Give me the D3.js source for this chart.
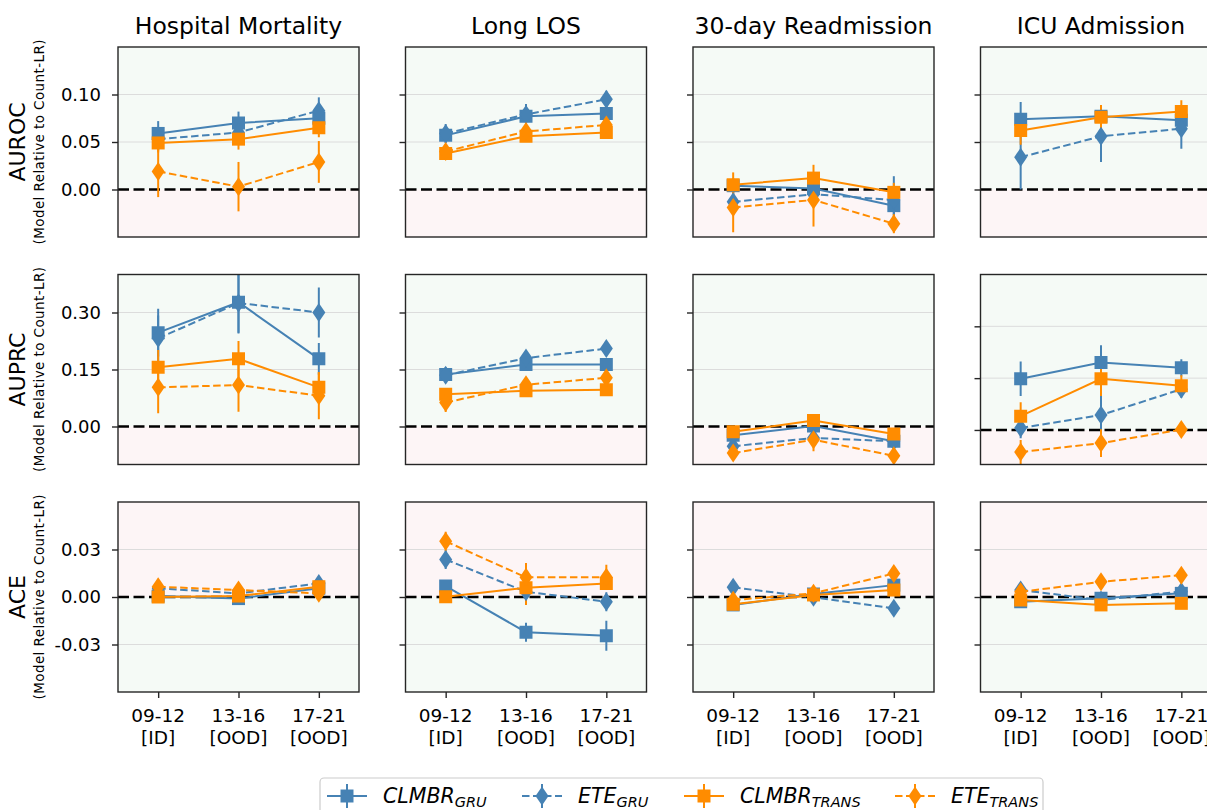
<!DOCTYPE html>
<html><head><meta charset="utf-8">
<script src="https://cdn.jsdelivr.net/npm/d3@7"></script>
<style>
body{margin:0;background:#fff}
svg{display:block;font-family:"DejaVu Sans",sans-serif}
</style>
</head><body>
<svg id="c" width="1207" height="810"></svg>
<script>
// ---------------- DATA ----------------
const tasks = ["Hospital Mortality", "Long LOS", "30-day Readmission", "ICU Admission"];
const metrics = ["AUROC", "AUPRC", "ACE"];
const periods = ["09-12", "13-16", "17-21"];
const periodTags = ["[ID]", "[OOD]", "[OOD]"];
const models = ["CLMBR_GRU", "ETE_GRU", "CLMBR_TRANS", "ETE_TRANS"];
const modelBase = ["CLMBR", "ETE", "CLMBR", "ETE"];
const modelSub = ["GRU", "GRU", "TRANS", "TRANS"];

const aurocTicks = [0, 0.05, 0.10];
const aurocTickLabels = ["0.00", "0.05", "0.10"];
const auprcTicks = [0, 0.15, 0.30];
const auprcTickLabels = ["0.00", "0.15", "0.30"];
const aceTicks = [-0.03, 0, 0.03];
const aceTickLabels = ["-0.03", "0.00", "0.03"];

// per task: [09-12, 13-16, 17-21]
const auroc_clmbr_gru     = [[0.059, 0.070, 0.075], [0.057, 0.077, 0.080], [0.004, 0.001, -0.017], [0.074, 0.077, 0.073]];
const auroc_ete_gru       = [[0.053, 0.060, 0.083], [0.059, 0.079, 0.095], [-0.013, -0.005, -0.011], [0.034, 0.056, 0.064]];
const auroc_clmbr_trans   = [[0.049, 0.053, 0.065], [0.038, 0.056, 0.060], [0.005, 0.012, -0.003], [0.062, 0.076, 0.082]];
const auroc_ete_trans     = [[0.019, 0.003, 0.029], [0.040, 0.061, 0.068], [-0.019, -0.011, -0.036], [null, null, null]];
const auroc_clmbr_gru_err   = [[0.013, 0.012, 0.012], [0.008, 0.007, 0.008], [0.008, 0.008, 0.010], [0.018, 0.012, 0.010]];
const auroc_ete_gru_err     = [[0.012, 0.012, 0.014], [0.010, 0.011, 0.009], [0.010, 0.010, 0.025], [0.034, 0.027, 0.021]];
const auroc_clmbr_trans_err = [[0.010, 0.011, 0.010], [0.007, 0.006, 0.006], [0.013, 0.014, 0.010], [0.015, 0.013, 0.012]];
const auroc_ete_trans_err   = [[0.027, 0.026, 0.022], [0.008, 0.008, 0.009], [0.026, 0.028, 0.010], [null, null, null]];

const auprc_clmbr_gru     = [[0.247, 0.327, 0.178], [0.137, 0.163, 0.163], [-0.023, 0.001, -0.039], [0.148, 0.195, 0.180]];
const auprc_ete_gru       = [[0.232, 0.325, 0.300], [0.135, 0.180, 0.205], [-0.052, -0.030, -0.039], [0.006, 0.043, 0.118]];
const auprc_clmbr_trans   = [[0.156, 0.178, 0.103], [0.085, 0.094, 0.097], [-0.014, 0.016, -0.020], [0.040, 0.148, 0.128]];
const auprc_ete_trans     = [[0.103, 0.109, 0.081], [0.063, 0.110, 0.128], [-0.070, -0.035, -0.077], [-0.064, -0.038, 0.001]];
const auprc_clmbr_gru_err   = [[0.063, 0.080, 0.042], [0.018, 0.012, 0.012], [0.008, 0.008, 0.008], [0.050, 0.050, 0.025]];
const auprc_ete_gru_err     = [[0.060, 0.080, 0.066], [0.020, 0.012, 0.012], [0.010, 0.010, 0.010], [0.030, 0.060, 0.025]];
const auprc_clmbr_trans_err = [[0.045, 0.047, 0.040], [0.015, 0.012, 0.012], [0.010, 0.008, 0.010], [0.040, 0.050, 0.030]];
const auprc_ete_trans_err   = [[0.068, 0.070, 0.062], [0.025, 0.018, 0.015], [0.015, 0.030, 0.012], [0.035, 0.040, 0.015]];

const ace_clmbr_gru     = [[0.0006, -0.001, 0.0055], [0.0069, -0.0222, -0.0245], [-0.005, 0.0019, 0.0075], [-0.003, -0.0008, 0.0023]];
const ace_ete_gru       = [[0.0055, 0.0023, 0.0086], [0.0237, 0.0033, -0.003], [0.0061, -0.0002, -0.0071], [0.0044, -0.0019, 0.0035]];
const ace_clmbr_trans   = [[0.0, 0.0006, 0.0065], [0.0002, 0.0059, 0.0086], [-0.0046, 0.0013, 0.0044], [-0.0019, -0.005, -0.004]];
const ace_ete_trans     = [[0.0065, 0.0044, 0.0023], [0.0352, 0.0124, 0.0124], [-0.002, 0.0023, 0.0149], [0.0033, 0.0096, 0.0138]];
const ace_clmbr_gru_err   = [[0.002, 0.002, 0.002], [0.003, 0.006, 0.0095], [0.003, 0.002, 0.003], [0.002, 0.002, 0.002]];
const ace_ete_gru_err     = [[0.002, 0.002, 0.003], [0.006, 0.006, 0.006], [0.003, 0.003, 0.003], [0.002, 0.002, 0.002]];
const ace_clmbr_trans_err = [[0.002, 0.002, 0.002], [0.003, 0.011, 0.004], [0.002, 0.002, 0.002], [0.002, 0.002, 0.002]];
const ace_ete_trans_err   = [[0.002, 0.002, 0.002], [0.006, 0.009, 0.008], [0.002, 0.002, 0.003], [0.002, 0.002, 0.002]];

// ---------------- CONFIG ----------------
const metricCfg = [
  {ticks: aurocTicks, labels: aurocTickLabels, domains: [[-0.05,0.15],[-0.05,0.15],[-0.05,0.15],[-0.05,0.15]], lowerIsBetter: false,
   vals: [auroc_clmbr_gru, auroc_ete_gru, auroc_clmbr_trans, auroc_ete_trans],
   errs: [auroc_clmbr_gru_err, auroc_ete_gru_err, auroc_clmbr_trans_err, auroc_ete_trans_err]},
  {ticks: auprcTicks, labels: auprcTickLabels, domains: [[-0.1,0.4],[-0.1,0.4],[-0.1,0.4],[-0.1,0.45]], lowerIsBetter: false,
   vals: [auprc_clmbr_gru, auprc_ete_gru, auprc_clmbr_trans, auprc_ete_trans],
   errs: [auprc_clmbr_gru_err, auprc_ete_gru_err, auprc_clmbr_trans_err, auprc_ete_trans_err]},
  {ticks: aceTicks, labels: aceTickLabels, domains: [[-0.06,0.06],[-0.06,0.06],[-0.06,0.06],[-0.06,0.06]], lowerIsBetter: true,
   vals: [ace_clmbr_gru, ace_ete_gru, ace_clmbr_trans, ace_ete_trans],
   errs: [ace_clmbr_gru_err, ace_ete_gru_err, ace_clmbr_trans_err, ace_ete_trans_err]}
];
const blue = "#4682b4", orange = "#ff8c00";
const styles = [
  {color: blue, dash: null, marker: "square"},
  {color: blue, dash: "7.5,3.5", marker: "diamond"},
  {color: orange, dash: null, marker: "square"},
  {color: orange, dash: "7.5,3.5", marker: "diamond"}
];
const green = "#f5faf6", pink = "#fdf5f6";

const svg = d3.select("#c");
const panelW = 241, panelH = 190;
const colLeft = i => 118 + i * 287.5;
const rowTop = j => 47 + j * 227.5;

function markerPath(type) {
  if (type === "square") return "M-6.5,-6.5H6.5V6.5H-6.5Z";
  return "M0,-9.5L6.5,0L0,9.5L-6.5,0Z";
}

// titles
tasks.forEach((t, i) => {
  svg.append("text").attr("x", colLeft(i) + panelW / 2).attr("y", 34)
    .attr("text-anchor", "middle").attr("font-size", 23.5).attr("fill", "#000").text(t);
});

metrics.forEach((m, j) => {
  const cfg = metricCfg[j];
  const top = rowTop(j);
  const cy = top + panelH / 2;
  svg.append("text").attr("transform", `translate(25,${cy}) rotate(-90)`)
    .attr("text-anchor", "middle").attr("font-size", 22).text(m);
  svg.append("text").attr("transform", `translate(44,${cy}) rotate(-90)`)
    .attr("text-anchor", "middle").attr("font-size", 13.5)
    .attr("textLength", 205).attr("lengthAdjust", "spacing")
    .text("(Model Relative to Count-LR)");

  tasks.forEach((t, i) => {
    const left = colLeft(i);
    const x = d3.scalePoint().domain(periods).range([left, left + panelW]).padding(0.5);
    const y = d3.scaleLinear().domain(cfg.domains[i]).range([top + panelH, top]);
    const g = svg.append("g");
    const cid = `clip-${j}-${i}`;
    svg.append("clipPath").attr("id", cid).append("rect")
      .attr("x", left).attr("y", top).attr("width", panelW).attr("height", panelH);
    const pg = g.append("g").attr("clip-path", `url(#${cid})`);
    pg.append("rect").attr("x", left).attr("y", top).attr("width", panelW).attr("height", y(0) - top)
      .attr("fill", cfg.lowerIsBetter ? pink : green);
    pg.append("rect").attr("x", left).attr("y", y(0)).attr("width", panelW).attr("height", top + panelH - y(0))
      .attr("fill", cfg.lowerIsBetter ? green : pink);
    cfg.ticks.filter(v => v !== 0).forEach(v => {
      pg.append("line").attr("x1", left).attr("x2", left + panelW).attr("y1", y(v)).attr("y2", y(v))
        .attr("stroke", "#dcdcdc").attr("stroke-width", 1);
    });
    pg.append("line").attr("x1", left).attr("x2", left + panelW).attr("y1", y(0)).attr("y2", y(0))
      .attr("stroke", "#000").attr("stroke-width", 2.6).attr("stroke-dasharray", "11,4.5");

    models.forEach((mod, k) => {
      const vals = cfg.vals[k][i], errs = cfg.errs[k][i];
      periods.forEach((p, pi) => {
        if (vals[pi] == null) return;
        pg.append("line").attr("x1", x(p)).attr("x2", x(p))
          .attr("y1", y(vals[pi] - errs[pi])).attr("y2", y(vals[pi] + errs[pi]))
          .attr("stroke", styles[k].color).attr("stroke-width", 2);
      });
    });
    models.forEach((mod, k) => {
      const vals = cfg.vals[k][i];
      const pts = periods.map((p, pi) => ({p, v: vals[pi]})).filter(d => d.v != null);
      if (!pts.length) return;
      const line = d3.line().x(d => x(d.p)).y(d => y(d.v));
      pg.append("path").attr("d", line(pts)).attr("fill", "none")
        .attr("stroke", styles[k].color).attr("stroke-width", 2)
        .attr("stroke-dasharray", styles[k].dash);
      pts.forEach(d => {
        pg.append("path").attr("d", markerPath(styles[k].marker))
          .attr("transform", `translate(${x(d.p)},${y(d.v)})`)
          .attr("fill", styles[k].color);
      });
    });
    g.append("rect").attr("x", left).attr("y", top).attr("width", panelW).attr("height", panelH)
      .attr("fill", "none").attr("stroke", "#262626").attr("stroke-width", 1.4);
    const ya = d3.axisLeft(y).tickValues(cfg.ticks).tickSize(6).tickPadding(11)
      .tickFormat((v, idx) => i === 0 ? cfg.labels[idx] : "");
    const yg = g.append("g").attr("transform", `translate(${left},0)`).call(ya);
    yg.select(".domain").remove();
    yg.selectAll(".tick line").attr("stroke", "#262626").attr("stroke-width", 1.4);
    yg.selectAll(".tick text").attr("font-size", 18).attr("fill", "#000")
      .attr("font-family", "DejaVu Sans");
    if (j === metrics.length - 1) {
      const xa = d3.axisBottom(x).tickSize(6).tickFormat("");
      const xg = g.append("g").attr("transform", `translate(0,${top + panelH})`).call(xa);
      xg.select(".domain").remove();
      xg.selectAll(".tick line").attr("stroke", "#262626").attr("stroke-width", 1.4);
      periods.forEach((p, pi) => {
        const t = g.append("text").attr("text-anchor", "middle").attr("font-size", 18.5).attr("fill", "#000");
        t.append("tspan").attr("x", x(p)).attr("y", top + panelH + 30).text(p);
        t.append("tspan").attr("x", x(p)).attr("y", top + panelH + 52).text(periodTags[pi]);
      });
    }
  });
});

// legend
const lg = svg.append("g");
lg.append("rect").attr("x", 320).attr("y", 778).attr("width", 723).attr("height", 45).attr("rx", 4)
  .attr("fill", "#fff").attr("stroke", "#cccccc").attr("stroke-width", 1.2);
const legX = [327, 522, 684, 895];
models.forEach((mod, k) => {
  const x0 = legX[k], cy = 796;
  lg.append("line").attr("x1", x0).attr("x2", x0 + 40).attr("y1", cy).attr("y2", cy)
    .attr("stroke", styles[k].color).attr("stroke-width", 2).attr("stroke-dasharray", styles[k].dash);
  lg.append("line").attr("x1", x0 + 20).attr("x2", x0 + 20).attr("y1", cy - 12).attr("y2", cy + 12)
    .attr("stroke", styles[k].color).attr("stroke-width", 2);
  lg.append("path").attr("d", markerPath(styles[k].marker)).attr("transform", `translate(${x0 + 20},${cy})`)
    .attr("fill", styles[k].color);
  const t = lg.append("text").attr("x", x0 + 56).attr("y", 803).attr("font-size", 20.5)
    .attr("font-style", "italic").attr("fill", "#000");
  t.append("tspan").text(modelBase[k]);
  t.append("tspan").attr("font-size", 14.5).attr("dy", 4).text(modelSub[k]);
});
</script>
</body></html>
